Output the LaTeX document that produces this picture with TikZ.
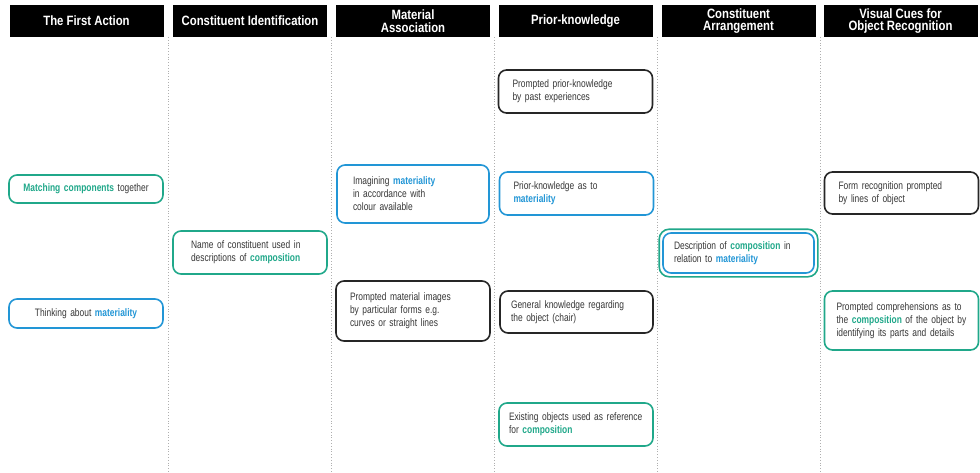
\documentclass[tikz,border=0pt]{standalone}
\usepackage{fontspec}
\setmainfont{Liberation Sans}[FakeStretch=0.84]
\newfontfamily\cardfont{Liberation Sans}[FakeStretch=0.78,WordSpace=0.72]
\usepackage{tikz}
\usetikzlibrary{positioning,fit}
\definecolor{cueTeal}{RGB}{32, 168, 138}
\definecolor{cueBlue}{RGB}{34, 150, 214}
\definecolor{cueDark}{RGB}{38, 38, 38}
\definecolor{cueText}{RGB}{55, 55, 55}
\definecolor{cueRule}{RGB}{175, 175, 175}
\newcommand{\tealword}[1]{\textbf{\textcolor{cueTeal}{#1}}}
\newcommand{\blueword}[1]{\textbf{\textcolor{cueBlue}{#1}}}
\hyphenpenalty=10000
\exhyphenpenalty=10000

\begin{document}
\begin{tikzpicture}[
  x=1pt, y=-1pt,
  header/.style={
    fill=black,
    minimum width=154pt,
    minimum height=32pt,
    inner sep=0pt,
    align=center,
    text=white,
    font=\fontsize{13.5}{12.5}\selectfont\bfseries
  },
  card/.style={
    draw,
    fill=white,
    rounded corners=8pt,
    line width=1.6pt,
    inner xsep=14pt,
    inner ysep=0pt,
    text width=126pt,
    align=left,
    text=cueText,
    font=\cardfont\fontsize{10.8}{13}\selectfont
  },
  divider/.style={cueRule, dotted, line width=0.8pt}
]
  \useasboundingbox (0,0) rectangle (980,472);
  % column rules
  \foreach \xx in {168,331,494,657,820}
    \draw[divider] (\xx,37) -- (\xx,472);

  % headers
  \node[header] (firstAction) at (86.5,21) {The First Action};
  \node[header] (constIdent) at (250,21) {Constituent Identification};
  \node[header] (materialAssoc) at (413,21) {Material\\Association};
  \node[header] (priorKnow) at (575.5,21) {Prior-knowledge};
  \node[header] (constArrange) at (738.5,21) {Constituent\\Arrangement};
  \node[header] (visualCues) at (900.5,21) {Visual Cues for\\Object Recognition};

  % The First Action
  \node[card,draw=cueTeal,align=center,minimum height=28pt] (matching) at (86,189)
    {\tealword{Matching components} together};
  \node[card,draw=cueBlue,align=center,minimum height=29pt] (thinking) at (86,313.5)
    {Thinking about \blueword{materiality}};

  % Constituent Identification
  \node[card,draw=cueTeal,minimum height=43pt,inner xsep=18pt,text width=118pt] (nameConst) at (250,252.5)
    {Name of constituent used in\\descriptions of \tealword{composition}};

  % Material Association
  \node[card,draw=cueBlue,minimum height=58pt,inner xsep=16pt,text width=120pt] (imagining) at (413,194)
    {Imagining \blueword{materiality}\\in accordance with\\colour available};
  \node[card,draw=cueDark,minimum height=60pt] (promptedImages) at (413,311)
    {Prompted material images\\by particular forms e.g.\\curves or straight lines};

  % Prior-knowledge
  \node[card,draw=cueDark,minimum height=43pt] (pastExp) at (575.5,91.5)
    {Prompted prior-knowledge\\by past experiences};
  \node[card,draw=cueBlue,minimum height=43pt] (priorMat) at (576.5,193.5)
    {Prior-knowledge as to\\\blueword{materiality}};
  \node[card,draw=cueDark,minimum height=42pt,inner xsep=11pt,text width=131pt] (general) at (576.5,312)
    {General knowledge regarding\\the object (chair)};
  \node[card,draw=cueTeal,minimum height=43pt,inner xsep=10pt,text width=134pt] (existing) at (576,424.5)
    {Existing objects used as reference\\for \tealword{composition}};

  % Constituent Arrangement
  \node[card,draw=cueBlue,inner xsep=11pt,text width=129pt,minimum height=40pt] (description) at (738.5,253)
    {Description of \tealword{composition} in\\relation to \blueword{materiality}};
  \node[draw=cueTeal,line width=1.6pt,rounded corners=10pt,inner sep=3pt,fit=(description)] (descOuter) {};

  % Visual Cues for Object Recognition
  \node[card,draw=cueDark,minimum height=42pt] (formRec) at (901.5,193)
    {Form recognition prompted\\by lines of object};
  \node[card,draw=cueTeal,minimum height=59pt,inner xsep=12pt,text width=130pt] (comprehend) at (901.5,320.5)
    {Prompted comprehensions as to\\the \tealword{composition} of the object by\\identifying its parts and details};
\end{tikzpicture}
\end{document}
